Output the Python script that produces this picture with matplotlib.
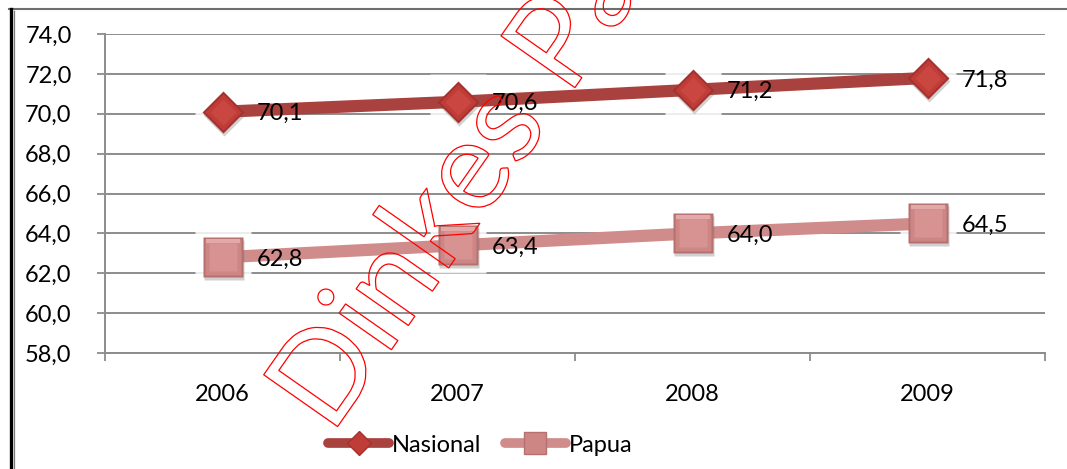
import matplotlib
matplotlib.use("Agg")
import matplotlib.pyplot as plt
from matplotlib.lines import Line2D
from matplotlib.patches import PathPatch
from matplotlib.textpath import TextPath
from matplotlib.font_manager import FontProperties
from matplotlib.transforms import Affine2D, offset_copy
from matplotlib.ticker import FuncFormatter, FixedLocator

# --- data -------------------------------------------------------------
years = ["2006", "2007", "2008", "2009"]
nasional = [70.1, 70.6, 71.2, 71.8]
papua = [62.8, 63.4, 64.0, 64.5]
series_names = ["Nasional", "Papua"]
y_ticks = [58, 60, 62, 64, 66, 68, 70, 72, 74]
watermark = "Dinkes Papua"

# --- style ------------------------------------------------------------
FONT = "Lato"
plt.rcParams["font.family"] = [FONT, "DejaVu Sans"]
W, H, DPI = 1067, 469, 100
FS = 17  # points

nas_line = "#A9423E"
nas_layers = ((21, "#A5322E"), (18.5, "#C03C37"), (13, "#CA4641"))
pap_line = "#D08C8B"
pap_layers = ((29, "#B47170"), (26.5, "#CE8685"), (20, "#D69392"))
grid_col = "#8C8C8C"

fig = plt.figure(figsize=(W / DPI, H / DPI), dpi=DPI)
fig.patch.set_facecolor("white")

ax = fig.add_axes([105 / W, 1 - 353 / H, (1045 - 105) / W, (353 - 34) / H])
x = list(range(len(years)))

ax.set_xlim(-0.5, len(years) - 0.5)
ax.set_ylim(y_ticks[0], y_ticks[-1])
ax.set_yticks(y_ticks)
ax.yaxis.set_major_formatter(FuncFormatter(lambda v, p: f"{v:.1f}".replace(".", ",")))

# category labels at centres, tick marks at category boundaries
ax.set_xticks(x)
ax.set_xticklabels(years)
ax.xaxis.set_minor_locator(FixedLocator([i - 0.5 for i in range(len(years) + 1)]))
ax.tick_params(axis="x", which="major", length=0, pad=22, labelsize=FS)
ax.tick_params(axis="x", which="minor", length=6, width=1.3, color=grid_col, direction="out")
ax.tick_params(axis="y", length=6, width=1.3, color=grid_col, pad=18, labelsize=FS)

ax.grid(axis="y", color=grid_col, linewidth=1.4, zorder=0)
ax.set_axisbelow(True)
for s in ["top", "right"]:
    ax.spines[s].set_visible(False)
for s in ["left", "bottom"]:
    ax.spines[s].set_color(grid_col)
    ax.spines[s].set_linewidth(1.4)

# soft white halo behind markers
for vals in (nasional, papua):
    ax.plot(x, vals, linestyle="none", marker="s", ms=40, mfc="white", mec="none",
            alpha=0.85, zorder=1)

# lines
ax.plot(x, nasional, color=nas_line, lw=8.8, solid_capstyle="butt", zorder=2)
ax.plot(x, papua, color=pap_line, lw=8.8, solid_capstyle="butt", zorder=2)

shadow = offset_copy(ax.transData, fig=fig, x=1.0, y=-3.0, units="dots")

# bevelled diamond markers
ax.plot(x, nasional, linestyle="none", marker="D", ms=nas_layers[0][0], mfc="#666666",
        mec="none", alpha=0.3, transform=shadow, zorder=3)
for ms, c in nas_layers:
    ax.plot(x, nasional, linestyle="none", marker="D", ms=ms, mfc=c, mec="none", zorder=4)

# bevelled square markers
ax.plot(x, papua, linestyle="none", marker="s", ms=pap_layers[0][0], mfc="#666666",
        mec="none", alpha=0.3, transform=shadow, zorder=3)
for ms, c in pap_layers:
    ax.plot(x, papua, linestyle="none", marker="s", ms=ms, mfc=c, mec="none", zorder=4)
# light top band of the squares
top_edge = offset_copy(ax.transData, fig=fig, x=0, y=16.5, units="dots")
ax.plot(x, papua, linestyle="none", marker="_", ms=25, mew=3, mec="#E2A9A8",
        transform=top_edge, zorder=5)

# value labels
label_off = offset_copy(ax.transData, fig=fig, x=34, y=-2, units="dots")
for vals in (nasional, papua):
    for xi, v in zip(x, vals):
        ax.text(xi, v, f"{v:.1f}".replace(".", ","), transform=label_off,
                ha="left", va="center", fontsize=FS, color="black", zorder=6)

# legend
handles = [
    Line2D([], [], color=nas_line, lw=7, solid_capstyle="round", marker="D", ms=12,
           mfc="#C03C37", mec="#A5322E", mew=1),
    Line2D([], [], color=pap_line, lw=7, solid_capstyle="round", marker="s", ms=16,
           mfc="#CE8685", mec="#B47170", mew=1),
]
fig.legend(handles, series_names, loc="center", bbox_to_anchor=(480 / W, 1 - 445 / H),
           ncol=2, frameon=False, fontsize=FS, handlelength=2.6, handletextpad=0.1,
           columnspacing=1.0)

# outer frame: gray top edge, double left edge
fig.add_artist(Line2D([9 / W, 1], [1 - 9.5 / H] * 2, transform=fig.transFigure,
                      color="#6E6E6E", lw=1.5))
fig.add_artist(Line2D([10.5 / W] * 2, [0, 1 - 9 / H], transform=fig.transFigure,
                      color="black", lw=2.4))
fig.add_artist(Line2D([13.5 / W] * 2, [0, 1 - 11 / H], transform=fig.transFigure,
                      color="#7A7A7A", lw=0.9))

# outlined watermark text
tp = TextPath((0, 0), watermark, size=126, prop=FontProperties(family=FONT))
wm = PathPatch(tp, facecolor="none", edgecolor="#FF0000", lw=0.9, zorder=10)
wm.set_transform(Affine2D().rotate_deg(55).translate(331, 33))
fig.add_artist(wm)

fig.savefig("out.png", dpi=DPI)
